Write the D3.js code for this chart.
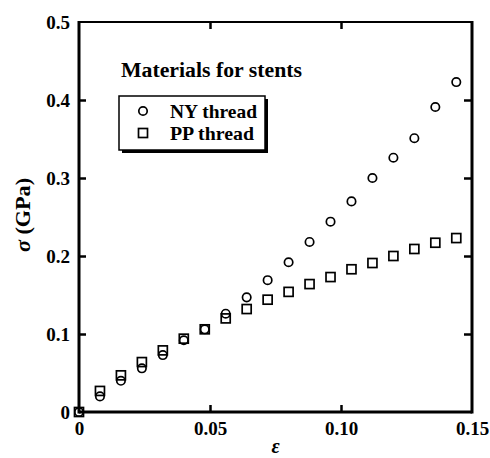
<!DOCTYPE html>
<html>
<head>
<meta charset="utf-8">
<script src="https://cdn.jsdelivr.net/npm/d3@7"></script>
<style>
  body { margin: 0; background: #fff; }
  svg { display: block; }
  text { font-family: "Liberation Serif", "Times New Roman", serif; font-weight: bold; fill: #000; }
</style>
</head>
<body>
<div id="chart"></div>
<script>
`use strict`;

// strain steps (0.008 apart) and stress readings in GPa
const strain = [0, 0.008, 0.016, 0.024, 0.032, 0.040, 0.048, 0.056, 0.064, 0.072,
                0.080, 0.088, 0.096, 0.104, 0.112, 0.120, 0.128, 0.136, 0.144];
const nyStress = [0, 0.020, 0.040, 0.056, 0.073, 0.092, 0.106, 0.126, 0.147, 0.169,
                  0.192, 0.218, 0.244, 0.270, 0.300, 0.326, 0.351, 0.391, 0.423];
const ppStress = [0, 0.027, 0.047, 0.064, 0.079, 0.094, 0.106, 0.120, 0.132, 0.144,
                  0.154, 0.164, 0.173, 0.183, 0.191, 0.200, 0.209, 0.217, 0.223];
const xTicks = [0, 0.05, 0.10, 0.15];
const xTickLabels = ['0', '0.05', '0.10', '0.15'];
const yTicks = [0, 0.1, 0.2, 0.3, 0.4, 0.5];
const yTickLabels = ['0', '0.1', '0.2', '0.3', '0.4', '0.5'];
const seriesNames = ['NY thread', 'PP thread'];
const chartTitle = 'Materials for stents';

(function(){
let w = 490, h = 458;
let pLeft = 79, pRight = 472, pTop = 22, pBottom = 412;

let svg = d3.select('#chart').append('svg').attr('width', w).attr('height', h);

let x = d3.scaleLinear().domain([0, 0.15]).range([pLeft, pRight]);
let y = d3.scaleLinear().domain([0, 0.5]).range([pBottom, pTop]);

//frame, left/bottom/right a bit heavier than top
svg.append('line').attr('x1', pLeft).attr('x2', pRight).attr('y1', pTop).attr('y2', pTop)
    .attr('stroke', '#000').attr('stroke-width', 2);
svg.append('line').attr('x1', pLeft).attr('x2', pLeft).attr('y1', pTop - 1).attr('y2', pBottom + 1.5)
    .attr('stroke', '#000').attr('stroke-width', 3);
svg.append('line').attr('x1', pRight).attr('x2', pRight).attr('y1', pTop - 1).attr('y2', pBottom + 1.5)
    .attr('stroke', '#000').attr('stroke-width', 3);
svg.append('line').attr('x1', pLeft).attr('x2', pRight).attr('y1', pBottom).attr('y2', pBottom)
    .attr('stroke', '#000').attr('stroke-width', 3);

//inward ticks, no default domain path
function styleAxis(g){
    g.select('.domain').remove();
    g.selectAll('.tick line').attr('stroke', '#000').attr('stroke-width', 2.5);
    g.selectAll('.tick text').style('font-size', '19px');
}

let inner = xTicks.slice(1, -1);
let innerY = yTicks.slice(1, -1);

svg.append('g').attr('transform', `translate(0,${pBottom})`)
    .call(d3.axisBottom(x).tickValues(xTicks).tickSizeInner(-7).tickSizeOuter(0).tickPadding(10)
        .tickFormat((d, i) => xTickLabels[i]))
    .call(styleAxis)
    .call(g => g.selectAll('.tick line').filter(d => !inner.includes(d)).remove());

svg.append('g').attr('transform', `translate(0,${pTop})`)
    .call(d3.axisTop(x).tickValues(inner).tickSizeInner(-7).tickSizeOuter(0).tickFormat(''))
    .call(styleAxis);

svg.append('g').attr('transform', `translate(${pLeft},0)`)
    .call(d3.axisLeft(y).tickValues(yTicks).tickSizeInner(-7).tickSizeOuter(0).tickPadding(9)
        .tickFormat((d, i) => yTickLabels[i]))
    .call(styleAxis)
    .call(g => g.selectAll('.tick line').filter(d => !innerY.includes(d)).remove());

svg.append('g').attr('transform', `translate(${pRight},0)`)
    .call(d3.axisRight(y).tickValues(innerY).tickSizeInner(-8).tickSizeOuter(0).tickFormat(''))
    .call(styleAxis);

//axis titles
svg.append('text').attr('transform', `translate(30,${(pTop + pBottom) / 2 - 2}) rotate(-90)`)
    .attr('text-anchor', 'middle').style('font-size', '20px')
    .attr('textLength', 74).attr('lengthAdjust', 'spacingAndGlyphs')
    .html('<tspan style="font-style:italic">σ</tspan> (GPa)');
svg.append('text').attr('x', (pLeft + pRight) / 2).attr('y', 453)
    .attr('text-anchor', 'middle').style('font-size', '20px').style('font-style', 'italic')
    .text('ε');

//markers
let ptsNY = strain.map((s, i) => ({x: s, y: nyStress[i]}));
let ptsPP = strain.map((s, i) => ({x: s, y: ppStress[i]}));

svg.append('g').selectAll('rect').data(ptsPP).join('rect')
    .attr('x', d => x(d.x) - 4.5).attr('y', d => y(d.y) - 4.5)
    .attr('width', 9).attr('height', 9)
    .attr('fill', 'none').attr('stroke', '#000').attr('stroke-width', 1.7);

svg.append('g').selectAll('circle').data(ptsNY).join('circle')
    .attr('cx', d => x(d.x)).attr('cy', d => y(d.y)).attr('r', 4.2)
    .attr('fill', 'none').attr('stroke', '#000').attr('stroke-width', 1.7);

//title + legend
svg.append('text').attr('x', 121).attr('y', 77).style('font-size', '20px')
    .attr('textLength', 181).attr('lengthAdjust', 'spacingAndGlyphs').text(chartTitle);

let legend = svg.append('g');
legend.append('rect').attr('x', 122).attr('y', 99).attr('width', 146).attr('height', 54)
    .attr('fill', '#000');
legend.append('rect').attr('x', 119).attr('y', 96).attr('width', 146).attr('height', 54)
    .attr('fill', '#fff').attr('stroke', '#000').attr('stroke-width', 1.5);

let legendRows = [
    {name: seriesNames[0], y: 111, shape: 'circle', len: 87},
    {name: seriesNames[1], y: 133, shape: 'square', len: 84}
];
for(let r of legendRows){
    if(r.shape === 'circle'){
        legend.append('circle').attr('cx', 143).attr('cy', r.y).attr('r', 4.2)
            .attr('fill', 'none').attr('stroke', '#000').attr('stroke-width', 1.7);
    }else{
        legend.append('rect').attr('x', 138.5).attr('y', r.y - 4.5).attr('width', 9).attr('height', 9)
            .attr('fill', 'none').attr('stroke', '#000').attr('stroke-width', 1.7);
    }
    legend.append('text').attr('x', 170).attr('y', r.y + 7).style('font-size', '19px')
        .attr('textLength', r.len).attr('lengthAdjust', 'spacingAndGlyphs').text(r.name);
}
})();
</script>
</body>
</html>
